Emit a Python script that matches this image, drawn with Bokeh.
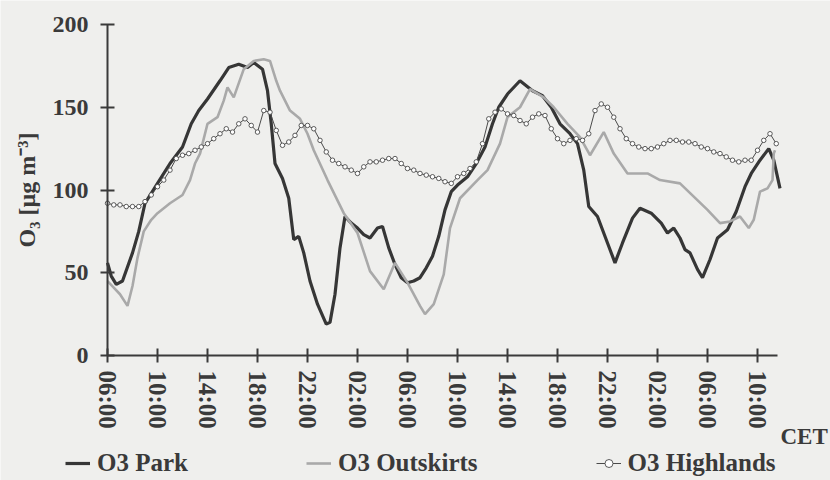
from bokeh.plotting import figure
from bokeh.models import Range1d, FixedTicker, Legend, LegendItem, Label
from bokeh.embed import file_html
from bokeh.resources import INLINE

# ---- data (hours after 06:00 CET of day 1, O3 in ug/m3) ----
park_hours = [0, 0.3, 0.7, 1.2, 2, 2.5, 3, 3.5, 4, 5, 6, 6.7, 7.3, 8, 9, 9.7, 10.5, 11.2, 11.7,
              12.4, 12.8, 13.1, 13.4, 14, 14.5, 14.9, 15.3, 15.7, 16.2, 16.8, 17.5, 17.8, 18.2,
              18.6, 19, 19.5, 20, 20.5, 21, 21.6, 22, 22.5, 23, 23.5, 24, 24.5, 25, 25.5, 26,
              26.5, 27, 27.5, 28, 28.8, 29.5, 30.2, 30.8, 31.3, 32, 33, 33.5, 34, 34.8, 35.5,
              36.2, 37, 37.6, 38.1, 38.5, 39.2, 40, 40.6, 41.2, 42, 42.6, 43.5, 44.3, 44.8,
              45.3, 45.8, 46.2, 46.6, 47.2, 47.6, 48.2, 48.8, 49.6, 50.3, 51, 51.5, 52.2, 52.9,
              53.3, 53.8]
park_o3 = [56, 48, 43, 45, 62, 75, 92, 98, 104, 116, 126, 140, 148, 155, 166, 174, 176, 174, 177,
           173, 160, 140, 116, 107, 95, 70, 72, 62, 45, 31, 19, 20, 37,
           65, 84, 80, 77, 73, 71, 77, 78, 65, 55, 47, 44, 45, 47, 53, 60,
           72, 88, 99, 103, 108, 116, 126, 140, 150, 158, 166, 163, 160, 157, 150,
           140, 134, 128, 112, 90, 84, 68, 56, 68, 83, 89, 86, 80, 74,
           77, 71, 64, 62, 52, 47, 58, 71, 76, 87, 102, 110, 118, 125,
           118, 101]

outskirts_hours = [0, 0.5, 1, 1.6, 2, 2.4, 2.9, 3.5, 4, 5, 6, 6.6, 7, 7.4, 8, 8.8, 9.3, 9.6, 10.1,
                   10.9, 11.7, 12.5, 13, 13.5, 13.8, 14.6, 15.4, 16, 16.5, 17.6, 18.9, 20, 21,
                   22.1, 23, 24, 25, 25.4, 26.1, 26.9, 27.4, 28.2, 29.6, 30.4, 31.4, 32, 33,
                   33.8, 34.9, 35.7, 36.8, 37.8, 38.6, 39.7, 40.5, 41.6, 43.2, 44.2, 45.8, 46.9,
                   48, 49, 49.8, 50.6, 51.3, 51.7, 52.2, 52.8, 53.2, 53.3, 53.4]
outskirts_o3 = [45, 41, 37, 30, 42, 59, 75, 82, 86, 92, 97, 106, 116, 122, 140, 144, 154, 162, 156,
                173, 178, 179, 178, 166, 160, 148, 143, 134, 124, 106, 86, 74, 51,
                40, 56, 44, 30, 25, 31, 49, 77, 95, 106, 112, 128, 144, 150,
                161, 156, 150, 140, 132, 121, 135, 122, 110, 110, 106, 104, 96,
                88, 80, 81, 84, 77, 82, 99, 101, 106, 122, 124]

# half-hourly values from 06:00 onward
highlands_o3 = [92, 91, 91, 90, 90, 90, 93, 97, 102, 106,
                112, 119, 121, 122, 124, 126, 128, 131, 134, 137,
                135, 140, 143, 139, 135, 148, 147, 136, 127, 129,
                133, 139, 139, 137, 130, 123, 118, 116, 114, 112,
                110, 114, 117, 117, 118, 119, 119, 116, 113, 112,
                110, 109, 108, 107, 105, 104, 108, 110, 113, 117,
                128, 143, 147, 149, 146, 145, 142, 140, 144, 146,
                145, 137, 131, 128, 130, 131, 130, 134, 148, 152,
                150, 144, 137, 131, 128, 126, 125, 125, 126, 128,
                130, 130, 129, 129, 128, 126, 125, 123, 122, 120,
                118, 117, 118, 118, 124, 130, 134, 128]
highlands_hours = [i * 0.5 for i in range(len(highlands_o3))]

tick_hours = [0, 4, 8, 12, 16, 20, 24, 28, 32, 36, 40, 44, 48, 52]
tick_labels = ["06:00", "10:00", "14:00", "18:00", "22:00", "02:00", "06:00",
               "10:00", "14:00", "18:00", "22:00", "02:00", "06:00", "10:00"]
y_ticks = [0, 50, 100, 150, 200]
x_axis_end = 53.6

# ---- layout / styling ----
W, H = 830, 480
X0_PX, PX_PER_H = 107, 12.5         # canvas x of 06:00, pixels per hour
Y0_PX, PX_PER_U = 355, 1.655        # canvas y of 0 ug/m3, pixels per unit
BG = "#efefed"
INK = "#3a3a3a"
FONT = "Liberation Serif"

x_range = Range1d(-X0_PX / PX_PER_H, (W - X0_PX) / PX_PER_H)
y_range = Range1d(-(H - Y0_PX) / PX_PER_U, Y0_PX / PX_PER_U)

p = figure(width=W, height=H, output_backend="svg", toolbar_location=None,
           x_range=x_range, y_range=y_range,
           min_border_left=0, min_border_right=0, min_border_top=0, min_border_bottom=0)
p.background_fill_color = BG
p.border_fill_color = BG
p.outline_line_color = None
p.grid.visible = False

r_park = p.line(park_hours, park_o3, line_color="#363636", line_width=3.2)
r_out = p.line(outskirts_hours, outskirts_o3, line_color="#a9a9a9", line_width=2.6)
r_high = p.line(highlands_hours, highlands_o3, line_color="#4a4a4a", line_width=1)
r_high_m = p.scatter(highlands_hours, highlands_o3, marker="circle", size=4.5,
                     fill_color="white", line_color="#4a4a4a", line_width=0.9)

for ax in (p.xaxis[0], p.yaxis[0]):
    ax.fixed_location = 0
    ax.axis_line_color = INK
    ax.axis_line_width = 2
    ax.major_tick_line_color = INK
    ax.major_tick_line_width = 2
    ax.major_tick_in = 7
    ax.major_tick_out = 7
    ax.minor_tick_line_color = None
    ax.major_label_text_font = FONT
    ax.major_label_text_font_style = "bold"
    ax.major_label_text_color = INK

p.xaxis.bounds = (0, x_axis_end)
p.xaxis.ticker = FixedTicker(ticks=tick_hours)
p.xaxis.major_label_overrides = {h: lab for h, lab in zip(tick_hours, tick_labels)}
p.xaxis.major_label_orientation = "vertical"
p.xaxis.major_label_text_font_size = "25px"
p.xaxis.major_label_standoff = 8

p.yaxis.bounds = (0, 200)
p.yaxis.ticker = FixedTicker(ticks=y_ticks)
p.yaxis.major_label_text_font_size = "24px"
p.yaxis.major_label_standoff = 12
p.yaxis.axis_label = "O\u2083 [\u00b5g m\u207b\u00b3]"
p.yaxis.axis_label_text_font = FONT
p.yaxis.axis_label_text_font_style = "bold"
p.yaxis.axis_label_text_font_size = "24px"
p.yaxis.axis_label_text_color = INK
p.yaxis.axis_label_standoff = 10

legend = Legend(items=[LegendItem(label="O3 Park", renderers=[r_park]),
                       LegendItem(label="O3 Outskirts", renderers=[r_out]),
                       LegendItem(label="O3 Highlands", renderers=[r_high, r_high_m])],
                location=(65, 3), orientation="horizontal",
                label_text_font=FONT, label_text_font_style="bold",
                label_text_font_size="25px", label_text_color=INK,
                glyph_width=25, glyph_height=20, label_standoff=7, spacing=118,
                padding=0, margin=0, border_line_color=None,
                background_fill_alpha=0)
p.add_layout(legend, "center")

cet = Label(x=780, y=44, x_units="screen", y_units="screen", text="CET",
            text_font=FONT, text_font_style="bold", text_font_size="23px",
            text_color=INK, text_baseline="middle", text_align="left")
p.add_layout(cet)

open("out.html", "w").write(file_html(p, INLINE))
